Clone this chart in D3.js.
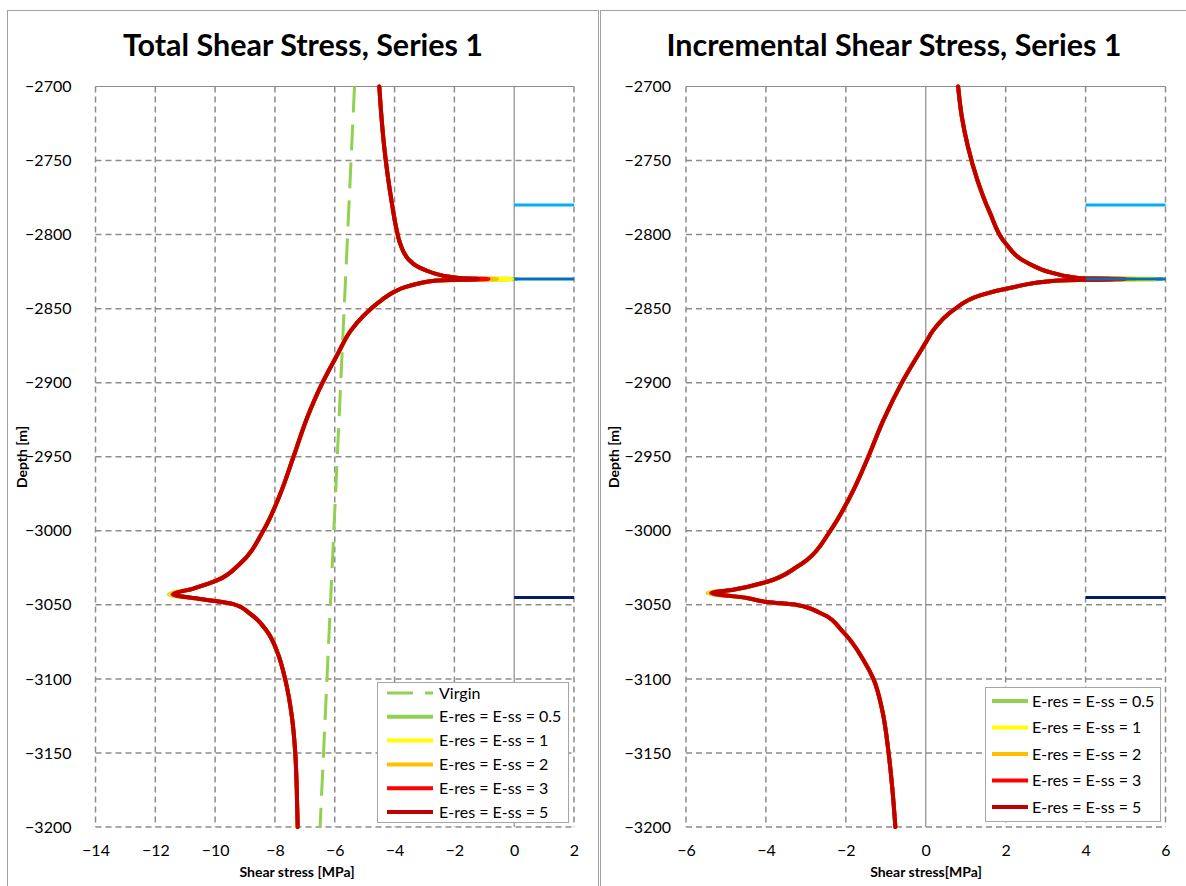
<!DOCTYPE html>
<html>
<head>
<meta charset="utf-8">
<script src="https://cdn.jsdelivr.net/npm/d3@7"></script>
<style>
  body { margin: 0; background: #fff; }
  text { font-family: Lato, "Open Sans", sans-serif; fill: #000; }
</style>
</head>
<body>
<svg id="chart" width="1186" height="886"></svg>
<script>
// ---------- data ----------
const seriesNames = ["E-res = E-ss = 0.5", "E-res = E-ss = 1", "E-res = E-ss = 2", "E-res = E-ss = 3", "E-res = E-ss = 5"];
const seriesColors = ["#92D050", "#FFFF00", "#FFC000", "#FF0000", "#C00000"];

const depthTicks = [-2700, -2750, -2800, -2850, -2900, -2950, -3000, -3050, -3100, -3150, -3200];
const stressTicksTotal = [-14, -12, -10, -8, -6, -4, -2, 0, 2];
const stressTicksInc = [-6, -4, -2, 0, 2, 4, 6];

// virgin shear stress profile [MPa] at depth [m]
const virginDepth = [-2700, -3200];
const virginStress = [-5.34, -6.49];

// total shear stress, E-res = E-ss = 5
const totalDepth = [-2700, -2720, -2740, -2760, -2780, -2795, -2805, -2812, -2817, -2821, -2824, -2826.5, -2828.5, -2829.5, -2830,
  -2831, -2833, -2835.5, -2838.5, -2844, -2855, -2865, -2881, -2900, -2923, -2950, -2975, -3000,
  -3022, -3033.5, -3039, -3043, -3046, -3049.5, -3056, -3068, -3083, -3100, -3126, -3150, -3175, -3200];
const totalStress = [-4.51, -4.44, -4.35, -4.23, -4.08, -3.95, -3.83, -3.69, -3.52, -3.28, -2.97, -2.62, -2.16, -1.75, -1.2,
  -2.6, -3.2, -3.65, -4.0, -4.42, -5.05, -5.47, -5.91, -6.41, -6.91, -7.38, -7.82, -8.39,
  -9.16, -9.94, -10.73, -11.38, -10.5, -9.39, -8.83, -8.26, -7.9, -7.66, -7.43, -7.32, -7.27, -7.24];
// peak values per series at -2830 m and -3043 m
const totalPeakUpper = [0.1, -0.08, -0.58, -0.86, -1.2];
const totalPeakLower = [-11.54, -11.50, -11.46, -11.42, -11.38];

// incremental shear stress, E-res = E-ss = 5
const incDepth = [-2700, -2720, -2740, -2763, -2785.5, -2805.7, -2819, -2826, -2829.4, -2830,
  -2831, -2835.5, -2841, -2851, -2864.5, -2873.3, -2899.6, -2925.3, -2950.2, -2972.5, -3000,
  -3019.6, -3024.3, -3034.4, -3039.8, -3042, -3045.4, -3048.1, -3050.1, -3055.5, -3068.3, -3087.2, -3100,
  -3121, -3150, -3173, -3200];
const incStress = [0.81, 0.90, 1.05, 1.29, 1.61, 1.99, 2.54, 3.19, 3.87, 4.7,
  3.3, 2.19, 1.36, 0.69, 0.19, -0.01, -0.59, -1.06, -1.44, -1.81, -2.39,
  -2.97, -3.22, -3.97, -4.82, -5.34, -4.47, -3.97, -3.22, -2.64, -2.07, -1.56, -1.31,
  -1.09, -0.93, -0.84, -0.76];
const incPeakUpper = [5.9, 5.75, 5.25, 5.0, 4.7];
const incPeakLower = [-5.46, -5.43, -5.40, -5.37, -5.34];

// horizon markers
const markerDepths = [-2780, -2830, -3045];
const markerColors = ["#00B0F0", "#0070C0", "#002060"];
const markerSpanTotal = [0, 2];
const markerSpanInc = [4, 6];

// ---------- drawing ----------
const svg = d3.select("#chart");
svg.append("rect").attr("width", 1186).attr("height", 886).attr("fill", "#fff");

// chart frames
svg.append("rect").attr("x", 7.5).attr("y", 10.5).attr("width", 591).attr("height", 900)
  .attr("fill", "none").attr("stroke", "#a0a0a0").attr("stroke-width", 1);
svg.append("rect").attr("x", 600.5).attr("y", 10.5).attr("width", 600).attr("height", 900)
  .attr("fill", "none").attr("stroke", "#a0a0a0").attr("stroke-width", 1);

function buildSeries(depths, base, peakDepthU, peakDepthL, peakU, peakL, i) {
  return depths.map((d, k) => {
    let v = base[k];
    if (d === peakDepthU) v = peakU[i];
    if (d === peakDepthL) v = peakL[i];
    return [d, v];
  });
}

function panel(cfg) {
  const g = svg.append("g");
  const x = d3.scaleLinear().domain(cfg.xDomain).range([cfg.x0, cfg.x1]);
  const y = d3.scaleLinear().domain([-2700, -3200]).range([86.5, 827]);

  // grid
  const grid = g.append("g");
  cfg.xTicks.forEach(t => {
    grid.append("line")
      .attr("x1", x(t)).attr("x2", x(t)).attr("y1", y(-2700)).attr("y2", y(-3200))
      .attr("stroke", "#8c8c8c")
      .attr("stroke-width", t === 0 ? 1.2 : 1.5)
      .attr("stroke-dasharray", t === 0 ? null : "6,4");
  });
  depthTicks.forEach(t => {
    grid.append("line")
      .attr("x1", x(cfg.xDomain[0])).attr("x2", x(cfg.xDomain[1])).attr("y1", y(t)).attr("y2", y(t))
      .attr("stroke", "#8c8c8c")
      .attr("stroke-width", t === -2700 ? 1.2 : 1.5)
      .attr("stroke-dasharray", t === -2700 ? null : "6,4");
  });

  // axes (labels only)
  const xAxis = d3.axisBottom(x).tickValues(cfg.xTicks).tickSize(0).tickPadding(18).tickFormat(d3.format("d"));
  const gx = g.append("g").attr("transform", `translate(0,${y(-3200)})`).call(xAxis);
  const yAxis = d3.axisLeft(y).tickValues(depthTicks).tickSize(0).tickPadding(cfg.yPad).tickFormat(d3.format("d"));
  const gy = g.append("g").attr("transform", `translate(${cfg.x0},0)`).call(yAxis);
  [gx, gy].forEach(a => {
    a.select(".domain").remove();
    a.selectAll("text").style("font-family", "Lato, sans-serif").style("font-size", "16px").attr("fill", "#000");
  });

  const line = d3.line().x(d => x(d[1])).y(d => y(d[0])).curve(d3.curveMonotoneY);

  // virgin profile
  if (cfg.virgin) {
    g.append("path")
      .datum(virginDepth.map((d, k) => [d, virginStress[k]]))
      .attr("d", d3.line().x(d => x(d[1])).y(d => y(d[0])))
      .attr("fill", "none").attr("stroke", "#92D050").attr("stroke-width", 3)
      .attr("stroke-dasharray", "26,12");
  }

  // stress series
  seriesNames.forEach((name, i) => {
    const data = buildSeries(cfg.depth, cfg.stress, -2830, cfg.lowerPeakDepth, cfg.peakU, cfg.peakL, i);
    g.append("path").datum(data).attr("d", line)
      .attr("fill", "none").attr("stroke", seriesColors[i]).attr("stroke-width", 4)
      .attr("stroke-linejoin", "round").attr("stroke-linecap", "round");
  });

  // horizon markers
  markerDepths.forEach((d, k) => {
    g.append("line")
      .attr("x1", x(cfg.markerSpan[0])).attr("x2", x(cfg.markerSpan[1]))
      .attr("y1", y(d)).attr("y2", y(d))
      .attr("stroke", markerColors[k]).attr("stroke-width", 3);
  });

  // titles
  g.append("text").attr("x", cfg.titleX).attr("y", 56).attr("text-anchor", "middle")
    .style("font-size", "30.5px").style("font-weight", "bold").text(cfg.title);
  g.append("text").attr("x", cfg.xTitleX).attr("y", 877).attr("text-anchor", "middle")
    .style("font-size", "14px").style("font-weight", "bold").text(cfg.xTitle);
  g.append("text").attr("transform", `translate(${cfg.yTitleX},457) rotate(-90)`).attr("text-anchor", "middle")
    .style("font-size", "14px").style("font-weight", "bold").text("Depth [m]");

  // legend
  const lg = g.append("g").attr("transform", `translate(${cfg.legend.x},${cfg.legend.y})`);
  lg.append("rect").attr("x", 0.5).attr("y", 0.5).attr("width", cfg.legend.w).attr("height", cfg.legend.h)
    .attr("fill", "#fff").attr("stroke", "#a6a6a6");
  const items = [];
  if (cfg.virgin) items.push({ name: "Virgin", color: "#92D050", dash: true });
  seriesNames.forEach((n, i) => items.push({ name: n, color: seriesColors[i], dash: false }));
  items.forEach((it, k) => {
    const yy = cfg.legend.first + k * cfg.legend.step;
    lg.append("line").attr("x1", cfg.legend.lx0).attr("x2", cfg.legend.lx1).attr("y1", yy).attr("y2", yy)
      .attr("stroke", it.color).attr("stroke-width", it.dash ? 3 : 4)
      .attr("stroke-dasharray", it.dash ? "26,12" : null);
    lg.append("text").attr("x", cfg.legend.tx).attr("y", yy).attr("dy", "0.35em")
      .style("font-size", "16px").text(it.name);
  });
}

panel({
  xDomain: [-14, 2], x0: 95.5, x1: 574, xTicks: stressTicksTotal, yPad: 24,
  depth: totalDepth, stress: totalStress, peakU: totalPeakUpper, peakL: totalPeakLower, lowerPeakDepth: -3043,
  virgin: true, markerSpan: markerSpanTotal,
  title: "Total Shear Stress, Series 1", titleX: 303,
  xTitle: "Shear stress [MPa]", xTitleX: 297, yTitleX: 27,
  legend: { x: 377, y: 682, w: 191, h: 140, first: 11, step: 23.8, lx0: 10, lx1: 56, tx: 62 }
});

panel({
  xDomain: [-6, 6], x0: 686, x1: 1165.5, xTicks: stressTicksInc, yPad: 15,
  depth: incDepth, stress: incStress, peakU: incPeakUpper, peakL: incPeakLower, lowerPeakDepth: -3042,
  virgin: false, markerSpan: markerSpanInc,
  title: "Incremental Shear Stress, Series 1", titleX: 894,
  xTitle: "Shear stress[MPa]", xTitleX: 926, yTitleX: 619,
  legend: { x: 985, y: 687, w: 175, h: 134, first: 14, step: 26.5, lx0: 7, lx1: 43, tx: 47 }
});
</script>
</body>
</html>
